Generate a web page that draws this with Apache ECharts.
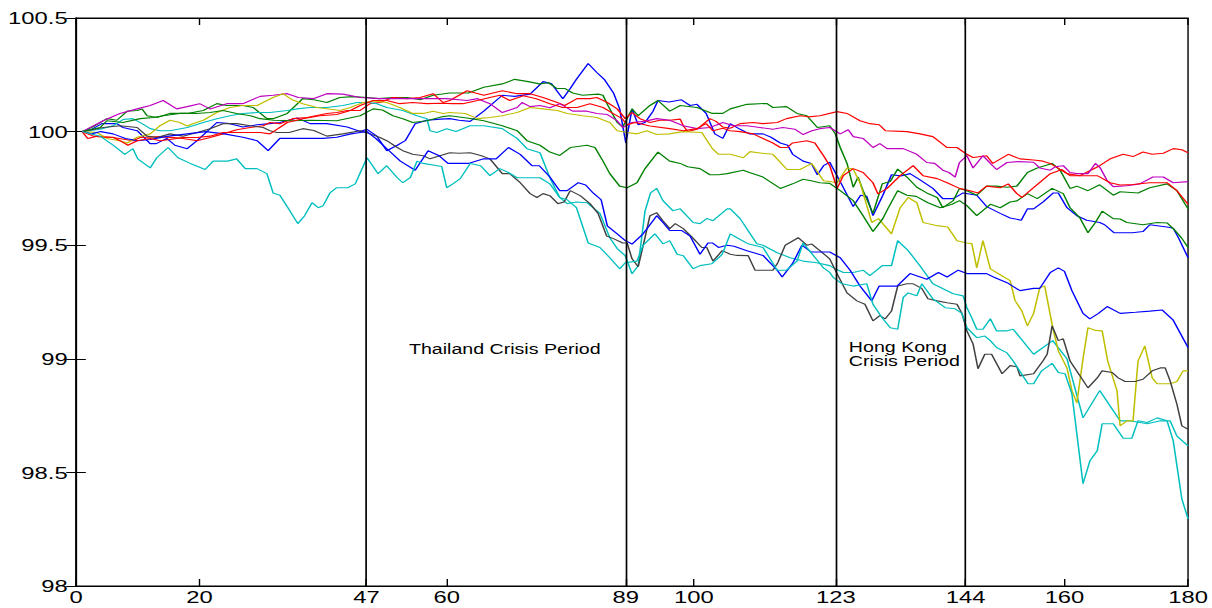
<!DOCTYPE html>
<html>
<head>
<meta charset="utf-8">
<script src="https://cdn.jsdelivr.net/npm/echarts@6/dist/echarts.min.js"></script>
<style>
  html, body { margin: 0; padding: 0; background: #fff; overflow: hidden; }
  /* the source figure is stretched sideways, so draw narrow and widen it */
  #chart { width: 866px; height: 608px; transform: scaleX(1.4); transform-origin: 0 0; }
</style>
</head>
<body>
<div id="chart"></div>
<script>
// x ticks and crisis markers
const xTicks = [0, 20, 47, 60, 89, 100, 123, 144, 160, 180];
const crisisLines = [47, 89, 123, 144];

// series, [day, index]
const blue1 = [[1,100],[2.5,100.01],[4.2,100.035],[6.6,100.035],[7.6,100.018],[9.9,100.004],[12,99.947],[13,99.947],[14.7,99.97],[16,99.94],[18,99.925],[19.6,99.96],[22.8,100.04],[24.9,100.035],[27,100.02],[29.3,100.03],[31.4,100.035],[33,100.04],[35.8,100.06],[37.9,100.035],[40.6,100.035],[43.9,100.02],[46,100.0],[47.1,100.01],[48.7,99.98],[50.3,99.916],[52,99.94],[53.3,99.96],[54.9,100.035],[56.8,100.05],[59,100.055],[60.5,100.057],[62,100.05],[63.8,100.045],[66,100.09],[69,100.16],[71,100.155],[73.5,100.165],[75.6,100.22],[77,100.21],[78.8,100.145],[80,100.19],[81,100.23],[82.9,100.3],[84.3,100.26],[85.5,100.23],[87,100.17],[88,100.1],[89,99.95],[90,100.1],[91,100.03],[92.1,100.04],[93.4,100.09],[94.2,100.137],[96,100.13],[98,100.14],[99.4,100.115],[100.5,100.12],[102,100.08],[103.4,99.99],[104.7,99.97],[105.9,100.035],[107.5,100.01],[109,99.99],[111.2,99.99],[112.5,99.975],[114,99.95],[115.2,99.94],[116,99.9],[117.7,99.87],[119,99.86],[120,99.81],[121,99.85],[122,99.865],[123.7,99.78],[125.8,99.67],[127,99.72],[128,99.715],[129,99.63],[130.6,99.72],[132,99.81],[133.5,99.805],[135,99.815],[136.5,99.79],[138.7,99.75],[140.3,99.705],[142,99.705],[143.6,99.73],[145.8,99.72],[147.4,99.67],[149.6,99.64],[151.2,99.62],[153,99.61],[154,99.66],[155,99.66],[156.5,99.69],[158.2,99.73],[159,99.73],[160.4,99.665],[162,99.63],[163.6,99.61],[165.7,99.6],[166.5,99.59],[168,99.555],[171,99.555],[172.7,99.56],[173.8,99.59],[176.6,99.58],[177.6,99.575],[178.5,99.53],[180,99.445]];

const green1 = [[1,100],[3,100.025],[5,100.057],[6.6,100.05],[8.3,100.09],[9.9,100.093],[10.7,100.1],[11.5,100.07],[13.1,100.062],[15.2,100.08],[18,100.08],[20.6,100.093],[22.8,100.123],[24.4,100.115],[27,100.115],[28.7,100.106],[30.9,100.057],[31.9,100.057],[34.2,100.08],[36.7,100.145],[38.5,100.14],[40.6,100.128],[42.7,100.15],[44.8,100.154],[47.1,100.15],[49,100.145],[51.3,100.15],[53.6,100.15],[55.7,100.14],[57.8,100.16],[60.5,100.17],[63.5,100.17],[66,100.195],[69,100.21],[71,100.23],[73.2,100.22],[75,100.21],[76.5,100.215],[77.8,100.19],[79.1,100.19],[80.4,100.17],[82,100.16],[84.5,100.165],[85.3,100.16],[86,100.12],[87.6,100.04],[88.5,100.02],[90,100.1],[91,100.07],[92.9,100.115],[94.2,100.137],[96.1,100.09],[97.8,100.115],[100.5,100.106],[103,100.08],[104.7,100.08],[105.9,100.1],[108.6,100.12],[111.8,100.124],[112.8,100.106],[115,100.11],[116.7,100.08],[118.3,100.07],[120,100.018],[122,100.026],[122.9,99.99],[123.7,99.93],[124.8,99.86],[125.8,99.755],[126.6,99.8],[127.4,99.74],[129,99.64],[130.5,99.77],[131.8,99.78],[133,99.835],[134.5,99.8],[136.1,99.755],[137.7,99.73],[139.4,99.71],[140.3,99.665],[142,99.696],[143,99.75],[144.2,99.74],[145.8,99.72],[147.4,99.76],[149,99.76],[150.7,99.755],[152.3,99.76],[154,99.82],[155.6,99.84],[158,99.86],[159.3,99.83],[160.9,99.75],[162,99.76],[163.8,99.74],[165.7,99.766],[167.9,99.72],[169,99.735],[171.9,99.73],[173.8,99.753],[176.6,99.77],[178.2,99.74],[180,99.66]];

const red1 = [[1,100],[1.9,99.97],[3.4,99.98],[6,99.974],[9.2,99.96],[10.4,99.974],[13.6,99.978],[17.3,99.97],[19.6,99.96],[21.7,99.974],[23.8,99.99],[26,100.008],[28.2,100.018],[30.3,100.026],[31.4,100.04],[33,100.035],[35.1,100.057],[37.4,100.062],[40.6,100.08],[42.2,100.084],[43.9,100.093],[46,100.093],[47.6,100.123],[49.2,100.128],[51.3,100.15],[53.6,100.145],[55.7,100.15],[57.8,100.167],[59.4,100.128],[60.5,100.137],[63.3,100.18],[66,100.16],[69,100.18],[71.4,100.167],[73.5,100.167],[75.6,100.15],[77.9,100.128],[79.1,100.115],[81.1,100.145],[83.2,100.145],[84.3,100.15],[86,100.128],[87.6,100.1],[88.9,100.057],[90,100.084],[91.3,100.057],[92.9,100.04],[94.5,100.05],[96.1,100.05],[97.8,100.055],[98.3,100.026],[99,100.0],[100.5,100.01],[102.6,100.057],[103.6,100.045],[104.7,100.02],[105.9,100.015],[107.5,100.035],[109.6,100.04],[111.2,100.035],[113.5,100.04],[115,100.057],[117.2,100.07],[118.6,100.065],[120.4,100.07],[123.2,100.088],[124.8,100.08],[126.9,100.048],[128.5,100.035],[130,100.03],[131,100.004],[134.5,100.0],[136.6,99.99],[138.7,99.978],[141,99.93],[142.6,99.93],[144.2,99.9],[145.2,99.886],[147.4,99.894],[148.4,99.86],[150.9,99.9],[152.8,99.88],[155,99.875],[156.5,99.87],[157.7,99.86],[160.4,99.815],[162.5,99.806],[165.7,99.85],[167.4,99.88],[169.5,99.9],[171.1,99.89],[172.7,99.91],[174.2,99.9],[176,99.905],[177.6,99.925],[179,99.92],[180,99.907]];

const cyan1 = [[1,100],[3.9,100.01],[6,100.026],[7.6,100.053],[9.2,100.057],[10.7,100.035],[12,100.013],[13.6,100.004],[15.2,100.004],[18,100.018],[20.6,100.04],[22.8,100.057],[24.9,100.07],[27,100.08],[29.3,100.084],[31.4,100.084],[34.2,100.093],[35.8,100.1],[37.9,100.106],[40.6,100.106],[43.2,100.115],[45.5,100.128],[47.1,100.128],[48.7,100.123],[50.3,100.106],[52.9,100.093],[55.2,100.07],[56.8,100.057],[57.3,100.004],[58.4,99.996],[60,100.013],[61.5,100.0],[63.8,100.026],[66,100.026],[69,100.013],[71.4,99.97],[73,99.925],[75.1,99.907],[76.7,99.797],[78.3,99.71],[79.5,99.683],[81,99.69],[82.7,99.687],[84.8,99.64],[86.4,99.533],[87.6,99.485],[88.9,99.454],[90,99.374],[91,99.41],[92.1,99.65],[93,99.73],[94,99.75],[95,99.696],[96.6,99.652],[97.8,99.66],[99.9,99.6],[101,99.595],[102.1,99.617],[103.1,99.608],[105.4,99.66],[105.9,99.66],[107.5,99.617],[108.8,99.564],[110.2,99.506],[111.2,99.5],[113.5,99.467],[115.6,99.445],[117.7,99.43],[119.9,99.423],[122,99.41],[122.9,99.396],[124.2,99.38],[125.8,99.38],[127.4,99.39],[128.5,99.366],[130.5,99.41],[132,99.41],[133,99.52],[134.7,99.476],[136.6,99.41],[138.7,99.33],[142,99.286],[143.6,99.277],[144.2,99.225],[145,99.18],[145.8,99.13],[146.8,99.13],[148,99.176],[149,99.123],[150.7,99.123],[151.7,99.13],[155,99.02],[158.1,99.08],[160.4,99.0],[163,98.74],[165.7,98.86],[169,98.727],[170.6,98.727],[173.4,98.714],[175.5,98.727],[177.1,98.727],[178.2,98.66],[180,98.617]];

const magentaLine = [[1,100],[4.4,100.048],[7.1,100.08],[9.9,100.1],[12,100.115],[14.1,100.137],[16.3,100.1],[18,100.11],[20,100.123],[21.7,100.1],[24.4,100.123],[27,100.123],[29.8,100.155],[31.9,100.16],[34.2,100.167],[36,100.15],[38.4,100.145],[40.6,100.167],[43.2,100.165],[46,100.15],[49.2,100.145],[52,100.145],[56,100.145],[60,100.145],[63.3,100.137],[65,100.145],[67,100.123],[69,100.084],[71.4,100.106],[72.2,100.128],[73.5,100.11],[75.1,100.115],[76.7,100.105],[78.3,100.123],[80.4,100.09],[82.7,100.09],[84.3,100.08],[86,100.075],[87.6,100.048],[88.5,100.018],[90,100.04],[92,100.045],[94,100.057],[96.1,100.05],[98.3,100.026],[100.5,100.013],[102.6,100.018],[104.7,100.04],[106.4,100.026],[108.6,100.026],[110.7,100.018],[112.8,100.01],[114.4,100.018],[116.4,100.01],[117.7,99.987],[119.1,100.004],[120.4,100.013],[122,100.018],[123.7,99.99],[125,100.008],[125.8,99.978],[127.4,99.97],[129,99.93],[130.1,99.947],[131.3,99.925],[133.9,99.925],[136.1,99.9],[137.7,99.864],[139,99.86],[140.3,99.83],[141.3,99.82],[142.3,99.8],[143,99.864],[144.2,99.894],[145.2,99.84],[146.8,99.894],[148,99.86],[149,99.833],[150.7,99.864],[152.5,99.868],[155,99.865],[156,99.84],[157.7,99.83],[158.5,99.845],[159.8,99.85],[160.9,99.82],[162,99.815],[163.8,99.815],[165,99.86],[165.8,99.84],[166.9,99.784],[167.9,99.758],[170.1,99.762],[172.2,99.77],[174.3,99.8],[176,99.8],[177.6,99.775],[180,99.78]];

const yellowLine = [[1,100],[3.4,99.996],[5,99.97],[7.1,99.96],[8.3,99.95],[9.9,99.975],[12,99.99],[13.6,100.026],[15.2,100.05],[16.8,100.04],[18,100.025],[18.9,100.035],[20.6,100.05],[22.8,100.084],[24.9,100.106],[27,100.115],[29.3,100.115],[31.9,100.15],[33.5,100.167],[35,100.14],[36.7,100.123],[39,100.106],[42.7,100.093],[44.4,100.106],[46.5,100.128],[48.2,100.135],[50.3,100.128],[52.4,100.106],[54.5,100.08],[56.2,100.08],[57.8,100.09],[59.4,100.08],[60.5,100.084],[63,100.08],[65,100.057],[67,100.062],[69,100.07],[71.4,100.084],[73.5,100.106],[75.6,100.1],[77.9,100.093],[79.5,100.08],[82,100.07],[84.3,100.062],[86.4,100.04],[87.6,100.004],[89.2,99.996],[90.8,99.99],[92.4,100.004],[94,99.987],[96,99.99],[98.3,100.0],[101.3,99.996],[103,99.925],[104,99.9],[105.9,99.9],[108,99.885],[109.1,99.912],[111,99.905],[112.8,99.9],[115.1,99.833],[117.2,99.833],[119.1,99.86],[121,99.784],[122,99.78],[123.2,99.775],[124.8,99.84],[125.8,99.835],[126.9,99.775],[128.8,99.6],[129.9,99.617],[132,99.55],[133.4,99.665],[134.7,99.71],[136.1,99.687],[137.1,99.6],[139.4,99.586],[141.1,99.58],[142.6,99.52],[144.2,99.51],[145,99.507],[145.8,99.4],[146.8,99.52],[148,99.396],[149.6,99.37],[151.2,99.344],[152,99.256],[153.1,99.21],[154,99.145],[155,99.2],[156,99.313],[156.8,99.32],[158.1,99.137],[159,99.035],[160.4,98.96],[161.2,98.86],[162,98.806],[163,99.0],[163.8,99.137],[165,99.125],[166.1,99.123],[167,98.99],[168.5,98.86],[169,98.705],[170.1,98.727],[171.1,98.727],[171.9,98.99],[173,99.057],[174.2,98.916],[175,98.89],[177.1,98.89],[178.2,98.9],[179.2,98.947],[180,98.947]];

const grayLine = [[1,100],[4.4,100.018],[7.1,100.026],[9.9,100.018],[11.5,99.98],[13.1,99.974],[15.2,99.99],[17.3,99.98],[19.6,99.996],[21.7,100.013],[23.8,100.035],[26,100.035],[28.2,100.026],[30.3,100.018],[31.4,100.004],[32.5,99.996],[34.5,99.996],[36.7,100.013],[38.5,100.005],[40.6,99.98],[43.2,99.99],[46,100.004],[47.6,99.99],[49.2,99.974],[50.3,99.96],[52,99.93],[52.9,99.916],[54.5,99.9],[56.2,99.894],[57.3,99.88],[58.9,99.894],[60.5,99.907],[62,99.905],[63.8,99.907],[65.5,99.895],[67,99.88],[69,99.815],[70.2,99.815],[71.9,99.775],[73.5,99.727],[74.6,99.71],[75.6,99.727],[76.7,99.718],[78,99.683],[79,99.69],[80,99.74],[81.6,99.718],[83.2,99.683],[84.5,99.64],[85.9,99.54],[86.9,99.53],[88.5,99.51],[89.2,99.51],[90,99.44],[91,99.405],[92.1,99.533],[92.9,99.63],[94,99.643],[95,99.608],[96.1,99.573],[97,99.595],[98.3,99.573],[99.9,99.53],[101.3,99.49],[102.1,99.49],[103.1,99.43],[104.6,99.476],[105.9,99.46],[107,99.455],[108.8,99.454],[109.9,99.39],[111.2,99.39],[112.8,99.39],[113.6,99.423],[114.8,99.5],[116.9,99.533],[118.3,99.5],[119.1,99.505],[120.8,99.467],[122,99.44],[123.2,99.374],[124.8,99.29],[126.4,99.255],[127.7,99.24],[129,99.167],[130.1,99.19],[131,99.176],[132,99.21],[133,99.32],[134.5,99.33],[135.5,99.33],[136.9,99.31],[137.9,99.264],[139.4,99.255],[141,99.247],[142.6,99.24],[143.4,99.2],[144.2,99.123],[145.2,99.066],[146,98.956],[147.1,99.02],[148.2,99.02],[149.9,98.934],[151.2,98.97],[152.3,98.965],[152.8,98.925],[155,98.934],[156.5,98.99],[157.2,99.02],[158,99.145],[159,99.08],[159.8,99.088],[160.9,98.99],[162.5,98.925],[163.8,98.872],[165.3,98.916],[166.1,98.947],[167.7,98.94],[168.7,98.916],[169.8,98.9],[171.4,98.9],[172.7,98.91],[174.2,98.947],[175.5,98.96],[176.3,98.96],[177.1,98.903],[178.2,98.8],[179,98.705],[180,98.69]];

const blue2 = [[1,100],[2.5,99.99],[4,100.0],[6,99.99],[8,99.97],[10,99.96],[12,99.965],[15,99.98],[18,99.99],[21,100.0],[24,99.99],[27,99.975],[29.3,99.96],[31.1,99.916],[33,99.97],[36,99.97],[40,99.97],[42.2,99.975],[44.5,99.99],[46,99.996],[47.1,100.0],[48.5,99.97],[50.5,99.92],[52.5,99.87],[54.9,99.83],[57,99.916],[58.7,99.895],[60.2,99.86],[62,99.86],[63.5,99.86],[66,99.88],[68,99.88],[70,99.93],[71.9,99.9],[73.8,99.85],[75,99.85],[76.7,99.8],[78.3,99.74],[79.5,99.74],[81.3,99.775],[82.5,99.765],[83.7,99.73],[85,99.70],[86,99.585],[87.6,99.55],[88.9,99.52],[90,99.505],[91.8,99.55],[94,99.63],[95,99.6],[96.1,99.565],[98,99.565],[99.4,99.54],[101,99.46],[102.3,99.51],[103,99.51],[104,99.49],[105.4,99.5],[106.5,99.495],[108.6,99.476],[111.2,99.455],[113.5,99.39],[114.3,99.36],[116,99.42],[117.5,99.5],[119,99.47],[120.8,99.47],[122,99.47],[123.7,99.445],[125.3,99.39],[126.9,99.32],[128.8,99.255],[130,99.32],[132.9,99.32],[135,99.375],[137.7,99.35],[139.6,99.38],[141,99.36],[142.8,99.39],[144.2,99.375],[147.4,99.375],[148.5,99.36],[150.7,99.335],[152.8,99.30],[155,99.31],[156,99.31],[157.7,99.38],[159,99.40],[160,99.385],[161.2,99.30],[163,99.2],[164.1,99.176],[165.5,99.2],[166.9,99.23],[169,99.2],[171.5,99.205],[173.8,99.21],[175.8,99.215],[177.6,99.17],[180,99.05]];

const green2 = [[1,100],[3.9,100.018],[5,100.048],[7.6,100.04],[10.4,100.057],[12.5,100.062],[14.1,100.07],[16.8,100.08],[19.5,100.08],[21.7,100.084],[23.8,100.093],[26,100.08],[28.2,100.07],[29.8,100.057],[32,100.05],[35,100.048],[38,100.05],[42.2,100.048],[46,100.07],[48.1,100.1],[49.6,100.095],[51.3,100.07],[52.9,100.057],[54.5,100.04],[56.8,100.048],[59.4,100.066],[60.5,100.07],[63.3,100.06],[66,100.048],[69,100.026],[71.4,100.004],[73,99.96],[75.1,99.94],[76.7,99.91],[78.3,99.895],[80,99.93],[82.7,99.94],[84,99.93],[85.3,99.87],[86.4,99.815],[88,99.76],[89.2,99.753],[90.8,99.775],[92.1,99.837],[94.2,99.91],[96.1,99.87],[97.8,99.86],[99,99.845],[101,99.837],[102.6,99.81],[104,99.81],[105.4,99.815],[108,99.83],[109,99.82],[111.2,99.80],[114,99.75],[116,99.77],[117.7,99.79],[119,99.784],[120.4,99.775],[122,99.772],[123.7,99.74],[125.8,99.696],[127.4,99.63],[129,99.56],[130.6,99.617],[131.4,99.66],[133,99.74],[134.5,99.72],[136,99.715],[137.9,99.687],[139.9,99.665],[141.8,99.68],[143,99.696],[144.2,99.674],[145.8,99.63],[148,99.68],[149.6,99.665],[151.2,99.69],[152.3,99.695],[154,99.727],[155.6,99.705],[158,99.75],[159.8,99.727],[160.9,99.665],[162.5,99.62],[163.8,99.555],[165,99.6],[166.1,99.65],[167.9,99.617],[169,99.615],[170.1,99.6],[172.7,99.59],[175,99.6],[176.6,99.598],[177.9,99.565],[179,99.53],[180,99.49]];

const red2 = [[1,100],[2.8,99.98],[4.5,99.975],[6,99.975],[7.1,99.96],[8.4,99.94],[9.9,99.96],[12,99.97],[13.6,99.96],[15.2,99.965],[17.3,99.974],[19.6,99.974],[21.7,99.98],[23.8,99.996],[26,99.996],[28.2,99.996],[29.8,99.996],[31.4,99.99],[34.2,100.04],[36.7,100.057],[39.5,100.07],[42.2,100.075],[44.4,100.093],[46,100.115],[48.1,100.137],[50.3,100.137],[52.4,100.123],[54.5,100.128],[56.8,100.123],[59,100.125],[61,100.123],[62.6,100.123],[65,100.137],[67,100.15],[68.6,100.16],[70.2,100.137],[72.4,100.158],[74.5,100.145],[76.7,100.123],[78.8,100.106],[81.1,100.106],[83.2,100.123],[85.3,100.106],[86.9,100.08],[88.4,100.057],[89.2,100.03],[90.5,100.04],[92.9,100.025],[96.1,100.013],[98.3,100.004],[100.5,100.013],[102,100.035],[103.1,100.004],[104.7,100.015],[105.9,100.004],[107.5,100.0],[109.6,99.99],[111.2,99.97],[112.8,99.95],[114,99.93],[115.1,99.93],[116,99.95],[118.3,99.96],[119.6,99.95],[121,99.894],[122,99.85],[123.2,99.75],[124.2,99.806],[125.8,99.837],[127.4,99.82],[129,99.775],[129.8,99.726],[131.3,99.75],[133.4,99.806],[135.5,99.85],[137.1,99.806],[139.4,99.793],[141,99.775],[143,99.75],[144.7,99.74],[146,99.73],[147.4,99.76],[149.6,99.753],[150.9,99.77],[152.3,99.727],[153.1,99.71],[155,99.753],[157.7,99.815],[159.6,99.833],[160.9,99.806],[162.5,99.806],[165.3,99.806],[167.4,99.775],[169,99.765],[171.1,99.767],[173.8,99.775],[176.6,99.775],[178.2,99.74],[180,99.68]];

const cyan2 = [[1,100],[3.9,99.98],[6,99.94],[7.9,99.9],[9.2,99.925],[10,99.88],[12,99.84],[13.1,99.886],[14.9,99.93],[16.5,99.885],[18.5,99.86],[20.9,99.833],[22.2,99.87],[24.5,99.87],[26,99.88],[27.4,99.837],[29.3,99.837],[30.9,99.815],[31.9,99.73],[33,99.72],[34.3,99.665],[35.9,99.595],[37,99.63],[38.2,99.687],[39.2,99.665],[40,99.674],[41.1,99.73],[42.2,99.753],[44,99.753],[45.2,99.77],[47.1,99.885],[48.9,99.815],[50.3,99.85],[52,99.797],[52.9,99.775],[54.1,99.797],[55.2,99.87],[56.2,99.86],[59.2,99.846],[60,99.753],[61,99.77],[62.2,99.793],[63.8,99.86],[65.5,99.85],[67,99.806],[68.6,99.837],[70,99.82],[71.4,99.797],[75.1,99.797],[76.7,99.77],[78.3,99.71],[79.5,99.7],[81,99.665],[82.9,99.51],[84.8,99.49],[86.4,99.445],[88,99.396],[88.9,99.423],[90.8,99.43],[91.8,99.5],[93.7,99.55],[95,99.506],[96.1,99.52],[97.3,99.46],[98.3,99.454],[99.9,99.396],[101,99.41],[102.9,99.418],[104.6,99.46],[105.9,99.55],[107,99.533],[108.8,99.506],[111.2,99.49],[113.5,99.39],[115,99.39],[116.7,99.43],[117.7,99.51],[119.1,99.463],[121,99.4],[122,99.38],[122.6,99.357],[124,99.33],[125.8,99.32],[128,99.33],[129,99.24],[130.5,99.18],[131.8,99.137],[133,99.13],[133.9,99.27],[134.7,99.29],[136.1,99.277],[136.9,99.33],[138.7,99.264],[140.7,99.225],[142.3,99.22],[143.4,99.2],[144.2,99.137],[145.8,99.093],[147.1,99.1],[148,99.08],[149,99.05],[150.7,99.026],[151.7,98.99],[154.1,98.89],[155,98.89],[156.3,98.947],[158,98.98],[159,98.94],[160.1,98.934],[161.2,98.846],[163,98.45],[164.1,98.55],[165.3,98.595],[166.1,98.714],[167.9,98.714],[169.5,98.65],[170.9,98.65],[171.9,98.727],[173.4,98.72],[175,98.74],[176.6,98.727],[177.6,98.64],[179,98.383],[180,98.295]];

// matlab's old colour order
const lines = [
  { data: blue1, color: "#0000ff" },
  { data: green1, color: "#008000" },
  { data: red1, color: "#ff0000" },
  { data: cyan1, color: "#00bfbf" },
  { data: magentaLine, color: "#bf00bf" },
  { data: yellowLine, color: "#bfbf00" },
  { data: grayLine, color: "#404040" },
  { data: blue2, color: "#0000ff" },
  { data: green2, color: "#008000" },
  { data: red2, color: "#ff0000" },
  { data: cyan2, color: "#00bfbf" },
];

const font = "Liberation Sans, Arial, sans-serif";
const chart = echarts.init(document.getElementById("chart"), null, { renderer: "svg" });

const series = lines.map((l) => ({
  type: "line",
  data: l.data,
  showSymbol: false,
  silent: true,
  lineStyle: { color: l.color, width: 1.1 },
}));

// crisis boundaries and their captions
series.push({
  type: "line",
  data: [],
  silent: true,
  markLine: {
    silent: true,
    symbol: ["none", "none"],
    label: { show: false },
    lineStyle: { color: "#000", width: 1.2, type: "solid" },
    data: crisisLines.map((x) => ({ xAxis: x })),
  },
  markPoint: {
    silent: true,
    symbolSize: 0,
    label: {
      show: true,
      position: "right",
      distance: 0,
      color: "#000",
      fontFamily: font,
      fontSize: 14,
      lineHeight: 14,
      align: "left",
    },
    data: [
      { coord: [53.9, 99.04], label: { formatter: "Thailand Crisis Period" } },
      { coord: [125.1, 99.02], label: { formatter: "Hong Kong\nCrisis Period" } },
    ],
  },
});

const tickStyle = { show: true, inside: true, length: 7, lineStyle: { color: "#000", width: 1 } };

chart.setOption({
  animation: false,
  backgroundColor: "#fff",
  grid: { left: 54.3, right: 17.4, top: 18, bottom: 22, show: true, borderColor: "#000", borderWidth: 1 },
  xAxis: [
    {
      type: "value",
      min: 0,
      max: 180,
      axisLine: { show: true, lineStyle: { color: "#000", width: 1.2 } },
      axisTick: { ...tickStyle, customValues: xTicks },
      splitLine: { show: false },
      axisLabel: {
        customValues: xTicks,
        color: "#000",
        fontFamily: font,
        fontSize: 17,
        margin: 2,
      },
    },
    {
      type: "value",
      position: "top",
      min: 0,
      max: 180,
      axisLine: { show: true, lineStyle: { color: "#000", width: 1 } },
      axisTick: { ...tickStyle, customValues: xTicks },
      axisLabel: { show: false },
      splitLine: { show: false },
    },
  ],
  yAxis: [
    {
      type: "value",
      min: 98,
      max: 100.5,
      interval: 0.5,
      axisLine: { show: true, lineStyle: { color: "#000", width: 1.2 } },
      axisTick: tickStyle,
      splitLine: { show: false },
      axisLabel: { color: "#000", fontFamily: font, fontSize: 17, margin: 6 },
    },
    {
      type: "value",
      position: "right",
      min: 98,
      max: 100.5,
      interval: 0.5,
      axisLine: { show: true, lineStyle: { color: "#000", width: 1 } },
      axisTick: tickStyle,
      axisLabel: { show: false },
      splitLine: { show: false },
    },
  ],
  series: series,
});
</script>
</body>
</html>
